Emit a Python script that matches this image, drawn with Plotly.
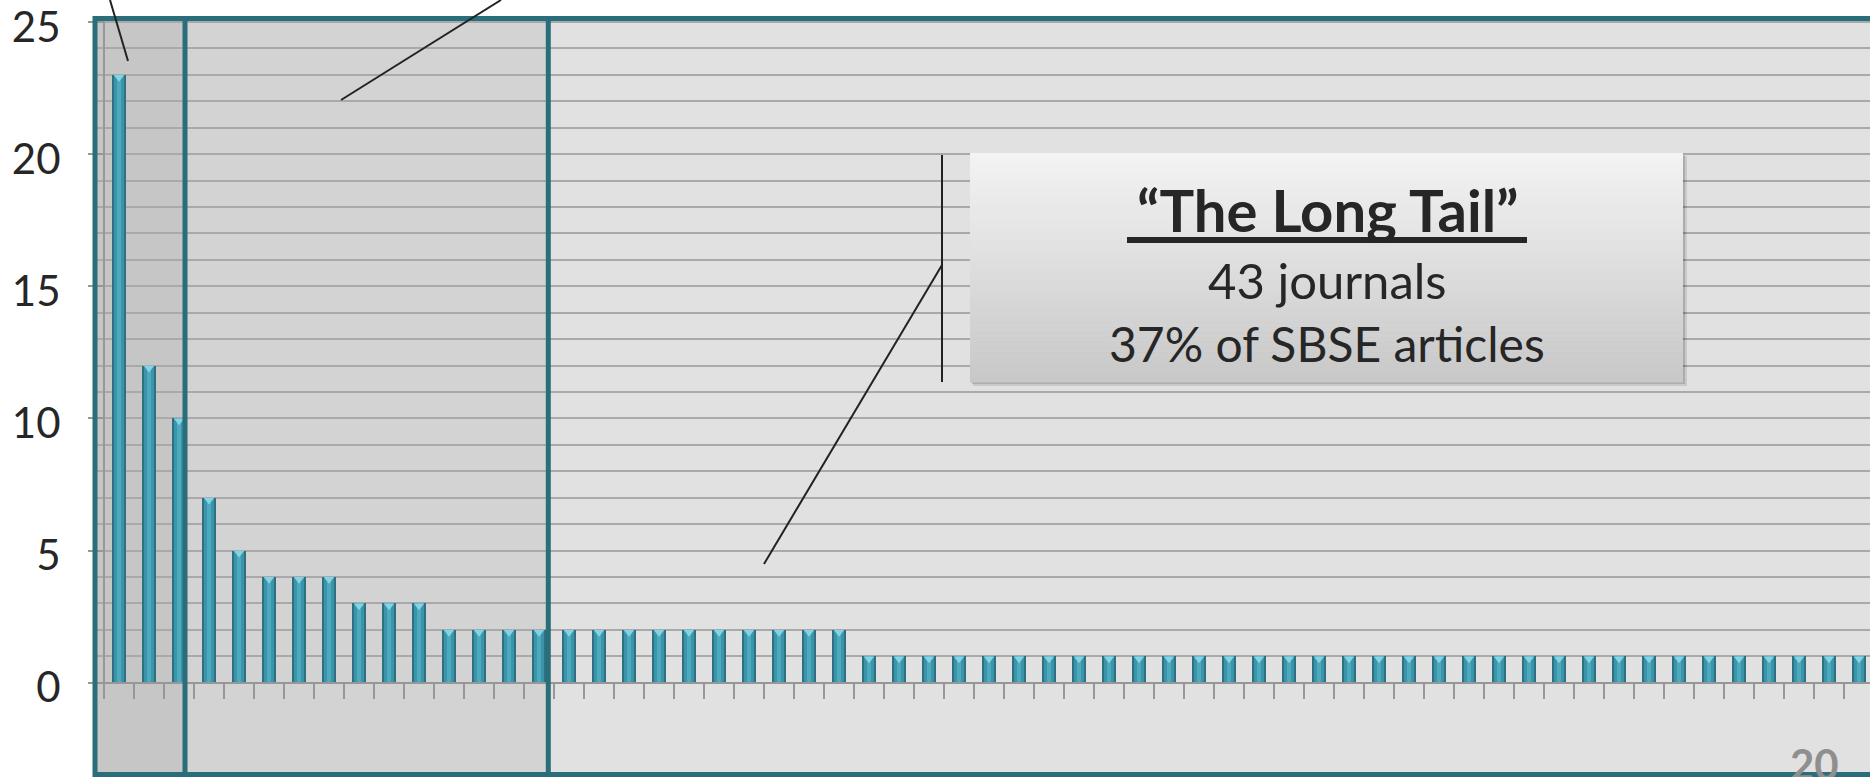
import plotly.graph_objects as go

# ---------------- data ----------------
journal_rank = list(range(1, 60))
articles = [23, 12, 10, 7, 5, 4, 4, 4, 3, 3, 3,
            2, 2, 2, 2, 2, 2, 2, 2, 2, 2, 2, 2, 2, 2,
            1, 1, 1, 1, 1, 1, 1, 1, 1, 1, 1, 1, 1, 1, 1, 1, 1,
            1, 1, 1, 1, 1, 1, 1, 1, 1, 1, 1, 1, 1, 1, 1, 1, 1]
y_tick_vals = [0, 5, 10, 15, 20, 25]
y_tick_text = ["0", "5", "10", "15", "20", "25"]
tail_title = "\u201cThe Long Tail\u201d"
tail_line1 = "43 journals"
tail_line2 = "37% of SBSE articles"
slide_number = "20"

# ---------------- layout geometry ----------------
W, H = 1870, 777
ML, MT, MR, MB = 95, 18, 0, 3
PW, PH = W - ML - MR, H - MT - MB
X0 = -0.8
X1 = X0 + PW / 30.0
Y1 = 25.15
Y0 = -3.454

def px(xp):
    return (xp - ML) / PW

def py(yp):
    return (H - MB - yp) / PH

x_idx = [r - 1 for r in journal_rank]

TEAL = "#2a6d7b"
GRID = "#a9a9a9"
AXIS = "#979797"

fig = go.Figure()
fig.add_trace(go.Bar(x=x_idx, y=articles, width=0.46, marker=dict(color="#2c7184", line=dict(width=0)),
                     hoverinfo="skip", showlegend=False))
fig.add_trace(go.Bar(x=x_idx, y=articles, width=0.34, marker=dict(color="#3d94a9", line=dict(width=0)),
                     hoverinfo="skip", showlegend=False))
fig.add_trace(go.Bar(x=x_idx, y=articles, width=0.16, marker=dict(color="#4caabf", line=dict(width=0)),
                     hoverinfo="skip", showlegend=False))
fig.add_trace(go.Scatter(x=x_idx, y=[v - 0.09 for v in articles], mode="markers",
                         marker=dict(symbol="triangle-down", size=9, color="#86d3e3", line=dict(width=0)),
                         hoverinfo="skip", showlegend=False))

shapes = []
# shaded regions (below gridlines)
d1, d2 = 2.2, 14.31
shapes.append(dict(type="rect", xref="x", yref="paper", x0=X0, x1=d1, y0=0, y1=1,
                   fillcolor="#c6c6c6", line=dict(width=0), layer="below"))
shapes.append(dict(type="rect", xref="x", yref="paper", x0=d1, x1=d2, y0=0, y1=1,
                   fillcolor="#d3d3d3", line=dict(width=0), layer="below"))
# y axis line from 0 to 25
shapes.append(dict(type="line", xref="x", yref="y", x0=-0.5, x1=-0.5, y0=0, y1=25,
                   line=dict(color=AXIS, width=2), layer="between"))
# frame
shapes.append(dict(type="rect", xref="paper", yref="paper", x0=0, x1=1.05, y0=py(774.5), y1=py(18.5),
                   line=dict(color=TEAL, width=5), fillcolor="rgba(0,0,0,0)", layer="above"))
for d in (d1, d2):
    shapes.append(dict(type="line", xref="x", yref="paper", x0=d, x1=d, y0=py(774.5), y1=py(18.5),
                       line=dict(color=TEAL, width=5), layer="above"))
# callout lines
for (xa, ya, xb, yb) in [(110, 0, 128, 61), (501, 0, 341, 100), (942, 155, 942, 382), (942, 265, 764, 564)]:
    shapes.append(dict(type="line", xref="paper", yref="paper", x0=px(xa), y0=py(ya), x1=px(xb), y1=py(yb),
                       line=dict(color="#222222", width=2), layer="above"))
# box shadow
shapes.append(dict(type="rect", xref="paper", yref="paper", x0=px(973), x1=px(1687), y0=py(386), y1=py(156),
                   fillcolor="rgba(0,0,0,0.10)", line=dict(width=0), layer="above"))
shapes.append(dict(type="rect", xref="paper", yref="paper", x0=px(972), x1=px(1685), y0=py(384), y1=py(155),
                   fillcolor="rgba(0,0,0,0.15)", line=dict(width=0), layer="above"))
# box gradient strips
bx0, bx1, by0, by1 = 970, 1683, 153, 382
n = 46
top_c = (0xf3, 0xf3, 0xf3)
bot_c = (0xc8, 0xc8, 0xc8)
for k in range(n):
    t = k / (n - 1)
    c = tuple(round(top_c[j] + (bot_c[j] - top_c[j]) * t) for j in range(3))
    ya = by0 + (by1 - by0) * k / n
    yb = by0 + (by1 - by0) * (k + 1) / n
    shapes.append(dict(type="rect", xref="paper", yref="paper", x0=px(bx0), x1=px(bx1),
                       y0=py(yb + 0.6), y1=py(ya),
                       fillcolor="rgb(%d,%d,%d)" % c, line=dict(width=0), layer="above"))
# underline of title
shapes.append(dict(type="line", xref="paper", yref="paper", x0=px(1127), x1=px(1527), y0=py(240), y1=py(240),
                   line=dict(color="#262626", width=6), layer="above"))

annotations = [
    dict(text="<b>%s</b>" % tail_title, xref="paper", yref="paper", x=px(1327), y=py(209),
         showarrow=False, xanchor="center", yanchor="middle",
         font=dict(family="Lato", size=58, color="#262626")),
    dict(text=tail_line1, xref="paper", yref="paper", x=px(1327), y=py(280),
         showarrow=False, xanchor="center", yanchor="middle",
         font=dict(family="Lato", size=49, color="#262626")),
    dict(text=tail_line2, xref="paper", yref="paper", x=px(1327), y=py(343),
         showarrow=False, xanchor="center", yanchor="middle",
         font=dict(family="Lato", size=48, color="#262626")),
    dict(text="<b>%s</b>" % slide_number, xref="paper", yref="paper", x=px(1814), y=py(764),
         showarrow=False, xanchor="center", yanchor="middle",
         font=dict(family="Lato", size=42, color="#8f8f8f")),
]

minor_vals = [v for v in range(1, 25) if v % 5 != 0]

fig.update_layout(
    width=W, height=H,
    margin=dict(l=ML, r=MR, t=MT, b=MB, pad=0, autoexpand=False),
    paper_bgcolor="white",
    plot_bgcolor="#e1e1e1",
    barmode="overlay",
    bargap=0,
    showlegend=False,
    shapes=shapes,
    annotations=annotations,
    xaxis=dict(range=[X0, X1], anchor="free", position=(0 - Y0) / (Y1 - Y0), automargin=False,
               showgrid=False, zeroline=False, showline=True, linecolor=AXIS, linewidth=2,
               tickmode="array", tickvals=[i - 0.5 for i in range(len(articles) + 1)],
               ticks="outside", ticklen=15, tickwidth=2, tickcolor=AXIS,
               showticklabels=False, fixedrange=True),
    yaxis=dict(range=[Y0, Y1], anchor="free", position=(-0.5 - X0) / (X1 - X0), automargin=False,
               tickmode="array", tickvals=y_tick_vals, ticktext=y_tick_text,
               showgrid=True, gridcolor=GRID, gridwidth=2,
               minor=dict(tickmode="array", tickvals=minor_vals, showgrid=True,
                          gridcolor=GRID, gridwidth=2, ticks=""),
               zeroline=False, showline=False,
               ticks="outside", ticklen=16, tickwidth=2, tickcolor=AXIS,
               ticklabelstandoff=19, ticklabelshift=5, ticklabeloverflow="allow",
               tickfont=dict(family="Lato", size=42, color="#262626"),
               fixedrange=True),
)

fig.write_html("out.html", config={"displayModeBar": False})
